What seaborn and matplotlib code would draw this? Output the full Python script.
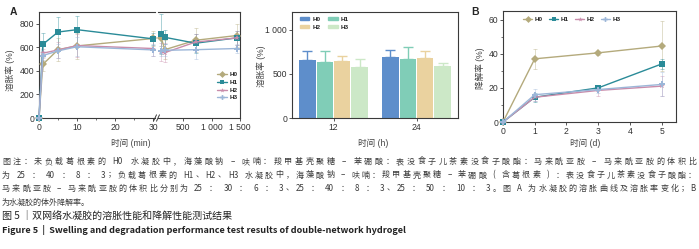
import re

import numpy as np
import pandas as pd
import seaborn as sns
from matplotlib import pyplot as plt
from matplotlib.lines import Line2D
from matplotlib.patches import Patch
from matplotlib.ticker import FuncFormatter, MultipleLocator

groups = ["H0", "H1", "H2", "H3"]
line_colors = ["#B4AA7C", "#2A8B98", "#C98CAB", "#9CB6D8"]
bar_colors = ["#5E8ECB", "#80CDB7", "#EAD29F", "#CCE8C7"]
markers = ["D", "s", "*", "P"]

# A: swelling ratio (%) vs time (min), rows = H0..H3
swell_t_short = [0, 1, 5, 10, 30]
swell_short = [[0, 455, 580, 612, 675],
               [0, 625, 730, 750, 672],
               [0, 550, 578, 615, 590],
               [0, 530, 570, 605, 578]]
swell_short_err = [[0, 60, 100, 110, 60],
                   [0, 100, 125, 120, 50],
                   [0, 40, 70, 100, 60],
                   [0, 40, 60, 80, 50]]
swell_t_long = [120, 180, 720, 1440]
swell_long = [[675, 580, 660, 700],
              [710, 685, 635, 680],
              [560, 555, 645, 680],
              [570, 575, 580, 590]]
swell_long_err = [[60, 80, 100, 100],
                  [170, 60, 80, 60],
                  [80, 80, 70, 60],
                  [40, 50, 80, 40]]

# swelling ratio at 12 h / 24 h, rows = hours
bar_hours = ["12", "24"]
bar_values = [[660, 630, 640, 575], [690, 670, 675, 585]]
bar_err = [[100, 125, 60, 95], [85, 130, 80, 35]]

# B: degradation (%) vs time (d)
deg_days = [0, 1, 3, 5]
deg_values = [[0, 37, 40.5, 44.5],
              [0, 14.5, 20, 34],
              [0, 14.5, 18.5, 21],
              [0, 16, 19, 22]]
deg_err = [[0, 6, 1, 14.5],
           [0, 2.5, 1.5, 3],
           [0, 2, 3, 6],
           [0, 3.5, 2, 7]]

caption = [
    "图注：未负载葛根素的 H0 水凝胶中，海藻酸钠 – 呋喃：羧甲基壳聚糖 – 苯硼酸：表没食子儿茶素没食子酸酯：马来酰亚胺 – 马来酰亚胺的体积比",
    "为 25 ： 40 ： 8 ： 3；负载葛根素的 H1、H2、H3 水凝胶中，海藻酸钠 – 呋喃：羧甲基壳聚糖 – 苯硼酸 ( 含葛根素 ) ：表没食子儿茶素没食子酸酯：",
    "马来酰亚胺 – 马来酰亚胺的体积比分别为 25 ： 30 ： 6 ： 3、25 ： 40 ： 8 ： 3、25 ： 50 ： 10 ： 3。图 A 为水凝胶的溶胀曲线及溶胀率变化；B",
    "为水凝胶的体外降解率。",
]
title_cn = "图 5 ｜双网络水凝胶的溶胀性能和降解性能测试结果"
title_en = "Figure 5  |  Swelling and degradation performance test results of double-network hydrogel"

sns.set_style("ticks")
plt.rcParams["font.family"] = ["Liberation Sans", "Noto Sans CJK SC", "DejaVu Sans"]
cjk = ["Noto Sans CJK SC", "DejaVu Sans"]
ink = "#3a3a3a"

W, H = 699, 249
fig = plt.figure(figsize=(W / 100, H / 100), dpi=100)


def add_axes(x0, y0, x1, y1):
    return fig.add_axes([x0 / W, 1 - y1 / H, (x1 - x0) / W, (y1 - y0) / H])


def style(ax):
    for s in ax.spines.values():
        s.set_linewidth(0.8)
        s.set_color(ink)
    ax.tick_params(labelsize=6.2, length=2, width=0.6, color=ink, labelcolor="#333333", pad=1.5)
    ax.tick_params(which="minor", length=1.2, width=0.5, color=ink)
    ax.set_xlabel("")
    ax.set_ylabel("")


def long_df(times, values):
    rows = [(t, v, g) for g, vals in zip(groups, values) for t, v in zip(times, vals)]
    return pd.DataFrame(rows, columns=["t", "v", "g"])


def draw_lines(ax, times, values, errors):
    for vals, errs, c in zip(values, errors, line_colors):
        ax.errorbar(times, vals, yerr=errs, fmt="none", ecolor=c, alpha=0.4,
                    elinewidth=0.7, capsize=1.5, capthick=0.7, zorder=1)
    sns.lineplot(data=long_df(times, values), x="t", y="v", hue="g", style="g",
                 palette=line_colors, markers=markers, dashes=False, markersize=4,
                 linewidth=1, markeredgewidth=0, legend=False, ax=ax, zorder=3)
    for l in ax.lines:
        if l.get_marker() in markers:
            l.set_clip_on(False)


thousands = FuncFormatter(lambda v, p: f"{int(v):,}".replace(",", " "))
leg_font = {"size": 4.6, "weight": "bold"}
line_handles = [Line2D([], [], color=c, marker=m, markersize=3.5, markeredgewidth=0, lw=1)
                for c, m in zip(line_colors, markers)]

# ---- A, broken x axis
axA1 = add_axes(39, 12, 155, 118)
axA2 = add_axes(158, 12, 240, 118)
draw_lines(axA1, swell_t_short, swell_short, swell_short_err)
draw_lines(axA2, swell_t_long, swell_long, swell_long_err)
for ax in (axA1, axA2):
    style(ax)
    ax.set_ylim(0, 900)
axA1.set_xlim(0, 30.5)
axA1.set_xticks([0, 10, 20, 30])
axA1.xaxis.set_minor_locator(MultipleLocator(5))
axA1.set_yticks([0, 200, 400, 600, 800])
axA1.spines["right"].set_visible(False)
axA2.set_xlim(60, 1500)
axA2.set_xticks([500, 1000, 1500])
axA2.xaxis.set_major_formatter(thousands)
axA2.set_yticks([])
axA2.spines["left"].set_visible(False)
brk = dict(color=ink, lw=0.7, clip_on=False)
axA1.plot([1 - 0.013, 1 + 0.013], [-0.03, 0.03], transform=axA1.transAxes, **brk)
axA2.plot([-0.018, 0.018], [-0.03, 0.03], transform=axA2.transAxes, **brk)
axA2.legend(line_handles, groups, loc="center right", bbox_to_anchor=(1.0, 0.3),
            frameon=False, prop=leg_font, handlelength=1.5, handletextpad=0.4,
            labelspacing=0.35, borderaxespad=0)

# ---- middle: bars
axM = add_axes(292, 12, 458, 118)
bar_df = pd.DataFrame([(h, g, v) for h, vals in zip(bar_hours, bar_values) for g, v in zip(groups, vals)],
                      columns=["hour", "group", "value"])
sns.barplot(data=bar_df, x="hour", y="value", hue="group", palette=bar_colors, saturation=1,
            width=0.84, gap=0.06, errorbar=None, linewidth=0, legend=False, ax=axM)
for cont, c, k in zip(axM.containers, bar_colors, range(len(groups))):
    for bar, errs in zip(cont, bar_err):
        x = bar.get_x() + bar.get_width() / 2
        axM.errorbar(x, bar.get_height(), yerr=[[0], [errs[k]]], fmt="none", ecolor=c,
                     elinewidth=1, capsize=3.5, capthick=1)
style(axM)
axM.set_xlim(-0.5, 1.5)
axM.set_ylim(0, 1200)
axM.set_yticks([0, 500, 1000])
axM.yaxis.set_major_formatter(thousands)
order = [0, 2, 1, 3]
axM.legend([Patch(color=bar_colors[i]) for i in order], [groups[i] for i in order],
           loc="upper left", bbox_to_anchor=(0.03, 0.98), ncol=2, frameon=False, prop=leg_font,
           handlelength=1.5, handleheight=0.5, handletextpad=0.5, columnspacing=1.2,
           labelspacing=0.45, borderaxespad=0)

# ---- B: degradation
axB = add_axes(503, 11, 676, 122)
draw_lines(axB, deg_days, deg_values, deg_err)
style(axB)
axB.set_xlim(0, 5.45)
axB.set_ylim(0, 65)
axB.set_xticks(range(6))
axB.set_yticks([0, 20, 40, 60])
axB.yaxis.set_minor_locator(MultipleLocator(10))
axB.legend(line_handles, groups, loc="upper left", bbox_to_anchor=(0.1, 0.97), ncol=4,
           frameon=False, prop=leg_font, handlelength=1.5, handletextpad=0.4,
           columnspacing=0.9, borderaxespad=0)

# ---- labels
lab = dict(fontsize=6.2, color="#444444", va="center", ha="center")
fig.text(131 / W, 1 - 143 / H, "时间 (min)", **lab)
fig.text(373 / W, 1 - 143 / H, "时间 (h)", **lab)
fig.text(585 / W, 1 - 143 / H, "时间 (d)", **lab)
fig.text(10 / W, 1 - 70 / H, "溶胀率 (%)", rotation=90, **lab)
fig.text(261 / W, 1 - 66 / H, "溶胀率 (%)", rotation=90, **lab)
fig.text(480 / W, 1 - 68 / H, "降解率 (%)", rotation=90, **lab)
fig.text(13 / W, 1 - 12 / H, "A", fontsize=7.5, weight="bold", va="center", ha="center")
fig.text(475 / W, 1 - 12 / H, "B", fontsize=7.5, weight="bold", va="center", ha="center")

# ---- caption, first three lines spread to full width
renderer = fig.canvas.get_renderer()
cap_color = "#3c3c3c"


def justify(s, y, size=5.8, x0=2, x1=696):
    items = []
    for tok in re.findall(r"[A-Za-z0-9()]+|\s+|.", s):
        if tok.isspace():
            items.append((None, size * 100 / 72 * 0.25))
        else:
            t = fig.text(0, 1 - y / H, tok, fontsize=size, color=cap_color, va="baseline", family=cjk)
            items.append((t, t.get_window_extent(renderer).width))
    gap = (x1 - x0 - sum(w for _, w in items)) / (len(items) - 1)
    x = x0
    for t, w in items:
        if t is not None:
            t.set_x(x / W)
        x += w + gap


for line, y in zip(caption[:3], [164, 177.5, 191]):
    justify(line, y)
fig.text(2 / W, 1 - 204.5 / H, caption[3], fontsize=5.8, color=cap_color, va="baseline", family=cjk)
fig.text(2 / W, 1 - 219.5 / H, title_cn, fontsize=7.2, color="#222222", va="baseline", family=cjk)
t_en = fig.text(2 / W, 1 - 233 / H, title_en, fontsize=6.5, weight="bold", color="#222222",
                va="baseline", family=cjk)
t_en.set_fontsize(6.5 * 405 / t_en.get_window_extent(renderer).width)

fig.savefig("out.png", dpi=100)
